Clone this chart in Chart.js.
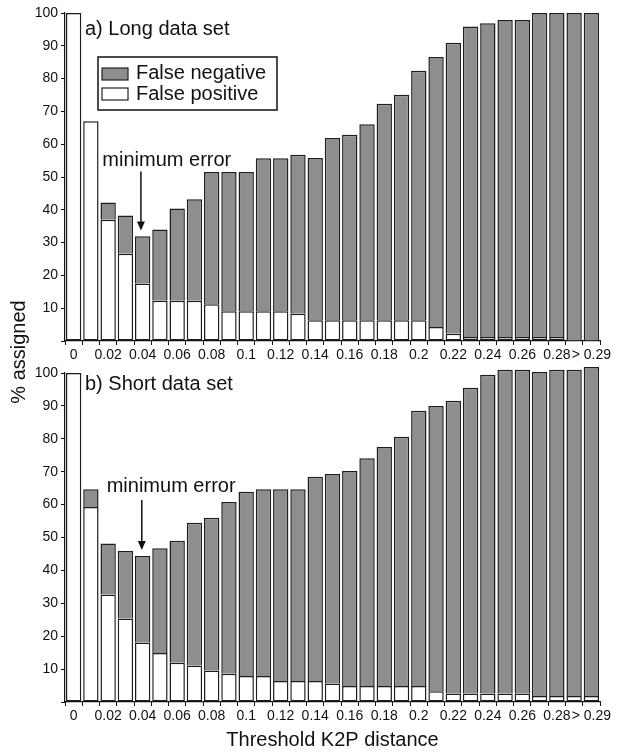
<!DOCTYPE html>
<html><head><meta charset="utf-8">
<script src="https://cdn.jsdelivr.net/npm/chart.js@4.4.0/dist/chart.umd.min.js"></script>
<style>
html,body{margin:0;padding:0;background:#fff;}
#wrap{position:relative;width:621px;height:752px;overflow:hidden;}
canvas{position:absolute;left:0;top:0;}
</style></head><body>
<div id="wrap">
<canvas id="cb" width="621" height="752"></canvas>
<canvas id="ca" width="621" height="366"></canvas>
</div>
<script>
// ---- data ----
const categories = ['0','0.01','0.02','0.03','0.04','0.05','0.06','0.07','0.08','0.09','0.1',
  '0.11','0.12','0.13','0.14','0.15','0.16','0.17','0.18','0.19','0.2',
  '0.21','0.22','0.23','0.24','0.25','0.26','0.27','0.28','0.29','> 0.29'];
const tickLabels = ['0','','0.02','','0.04','','0.06','','0.08','','0.1',
  '','0.12','','0.14','','0.16','','0.18','','0.2',
  '','0.22','','0.24','','0.26','','0.28','','> 0.29'];
const seriesNames = ['False positive','False negative'];

const longFalsePositive = [100,67,37.0,26.6,17.5,12.3,12.3,12.3,11.2,9.1,9.1,
  9.1,9.1,8.3,6.3,6.3,6.3,6.3,6.3,6.3,6.3,
  4.3,2.2,1.2,1.2,1.2,1.2,1.2,1.2,0,0];
const longFalseNegative = [0,0,5.2,11.7,14.4,21.7,28.1,30.9,40.3,42.4,42.4,
  46.6,46.6,48.5,49.5,55.6,56.6,59.8,66.0,68.8,76.1,
  82.3,88.7,94.7,95.7,96.7,96.7,98.8,98.8,100,100];

const shortFalsePositive = [100,59.3,32.7,25.4,18.1,14.9,11.9,11.1,9.6,8.6,7.9,
  7.9,6.4,6.4,6.4,5.6,4.9,4.9,4.9,4.9,4.9,
  3.3,2.6,2.6,2.6,2.6,2.6,1.8,1.8,1.8,1.8];
const shortFalseNegative = [0,5.4,15.5,20.5,26.3,31.8,37.1,43.4,46.4,52.2,56.0,
  56.8,58.3,58.3,62.1,63.7,65.3,69.2,72.6,75.7,83.6,
  86.7,89.0,92.9,96.9,98.4,98.4,98.5,99.2,99.2,100.0];

const FONT = '"Liberation Sans", Arial, Helvetica, sans-serif';
Chart.defaults.font.family = FONT;
Chart.defaults.color = '#111';

const GREY = '#8e8e8e';
const EDGE = '#1e1e1e';

function makeDatasets(fp, fn) {
  return [
    {label: seriesNames[0], data: fp, backgroundColor: '#ffffff', borderColor: EDGE,
     borderWidth: 1.5, borderSkipped: false, barPercentage: 0.89, categoryPercentage: 1, clip: false},
    {label: seriesNames[1], data: fn, backgroundColor: GREY, borderColor: EDGE,
     borderWidth: 1.5, borderSkipped: 'bottom', barPercentage: 0.89, categoryPercentage: 1, clip: false}
  ];
}

function annotationPlugin(cfg) {
  return {
    id: 'annot_' + cfg.key,
    afterDatasetsDraw(chart) {
      const ctx = chart.ctx, xs = chart.scales.x, ys = chart.scales.y, ca = chart.chartArea;
      ctx.save();
      ctx.fillStyle = '#111';
      ctx.strokeStyle = '#111';
      ctx.font = '20px ' + FONT;
      // panel title
      ctx.textAlign = 'left';
      ctx.textBaseline = 'alphabetic';
      ctx.fillText(cfg.title, ca.left + 20, ca.top + cfg.titleBaseline);
      // minimum error annotation
      ctx.textAlign = 'center';
      ctx.textBaseline = 'middle';
      ctx.fillText('minimum error', xs.getPixelForValue(cfg.textX), ys.getPixelForValue(cfg.textY));
      const ax = xs.getPixelForValue(cfg.arrowX);
      const y1 = ys.getPixelForValue(cfg.arrowFrom);
      const y2 = ys.getPixelForValue(cfg.arrowTo);
      ctx.lineWidth = 1.5;
      ctx.beginPath();
      ctx.moveTo(ax, y1);
      ctx.lineTo(ax, y2 - 6);
      ctx.stroke();
      ctx.beginPath();
      ctx.moveTo(ax - 4, y2 - 9);
      ctx.lineTo(ax + 4, y2 - 9);
      ctx.lineTo(ax, y2);
      ctx.closePath();
      ctx.fill();
      // legend
      if (cfg.legend) {
        const lx = ca.left + 33, ly = ca.top + 44, lw = 179, lh = 53;
        ctx.fillStyle = '#fff';
        ctx.fillRect(lx, ly, lw, lh);
        ctx.lineWidth = 1.5;
        ctx.strokeStyle = '#111';
        ctx.strokeRect(lx, ly, lw, lh);
        const items = [{c: GREY, t: seriesNames[1], sy: 11, by: 22},
                       {c: '#fff', t: seriesNames[0], sy: 31, by: 43}];
        items.forEach(it => {
          ctx.fillStyle = it.c;
          ctx.fillRect(lx + 4, ly + it.sy, 26, 12);
          ctx.lineWidth = 1.2;
          ctx.strokeStyle = '#222';
          ctx.strokeRect(lx + 4, ly + it.sy, 26, 12);
          ctx.fillStyle = '#111';
          ctx.textAlign = 'left';
          ctx.textBaseline = 'alphabetic';
          ctx.font = '20px ' + FONT;
          ctx.fillText(it.t, lx + 38, ly + it.by);
        });
      }
      if (cfg.yTitle) {
        ctx.save();
        ctx.translate(19, 352);
        ctx.rotate(-Math.PI / 2);
        ctx.fillStyle = '#111';
        ctx.textAlign = 'center';
        ctx.textBaseline = 'middle';
        ctx.font = '20px ' + FONT;
        ctx.fillText(cfg.yTitle, 0, 0);
        ctx.restore();
      }
      ctx.restore();
    }
  };
}

function makeOptions(padTop, xHeight, xTitle) {
  return {
    responsive: false,
    animation: false,
    events: [],
    layout: {padding: {top: padTop, right: 21, left: 0, bottom: 0}},
    plugins: {legend: {display: false}, tooltip: {enabled: false}},
    scales: {
      x: {
        stacked: true,
        offset: true,
        grid: {offset: true, drawOnChartArea: false, drawTicks: true, tickLength: 4, color: '#111', lineWidth: 1},
        border: {display: true, color: '#111', width: 1.2},
        ticks: {autoSkip: false, maxRotation: 0, minRotation: 0, padding: 2, color: '#111',
                font: {size: 14}, callback: (v, i) => tickLabels[i]},
        title: xTitle ? {display: true, text: xTitle, color: '#111', font: {size: 20}, padding: {top: 0, bottom: 0}} : {display: false},
        afterFit: s => { s.height = xHeight; }
      },
      y: {
        stacked: true,
        min: 0, max: 100,
        grid: {drawOnChartArea: false, drawTicks: true, tickLength: 4, color: '#111', lineWidth: 1},
        border: {display: true, color: '#111', width: 1.2},
        ticks: {stepSize: 10, padding: 3, color: '#111', font: {size: 14},
                callback: v => v === 0 ? '' : v},
        afterFit: s => { s.width = 65; }
      }
    }
  };
}

new Chart(document.getElementById('ca'), {
  type: 'bar',
  data: {labels: categories, datasets: makeDatasets(longFalsePositive, longFalseNegative)},
  options: makeOptions(13, 25, null),
  plugins: [annotationPlugin({key: 'a', title: 'a) Long data set', titleBaseline: 22, legend: true,
    textX: 5.4, textY: 55.1, arrowX: 3.9, arrowFrom: 51.7, arrowTo: 33.7})]
});

new Chart(document.getElementById('cb'), {
  type: 'bar',
  data: {labels: categories, datasets: makeDatasets(shortFalsePositive, shortFalseNegative)},
  options: makeOptions(373, 50, 'Threshold K2P distance'),
  plugins: [annotationPlugin({key: 'b', title: 'b) Short data set', titleBaseline: 17, legend: false,
    textX: 5.65, textY: 65.4, arrowX: 3.95, arrowFrom: 61.4, arrowTo: 46.2, yTitle: '% assigned'})]
});
</script>
</body></html>
